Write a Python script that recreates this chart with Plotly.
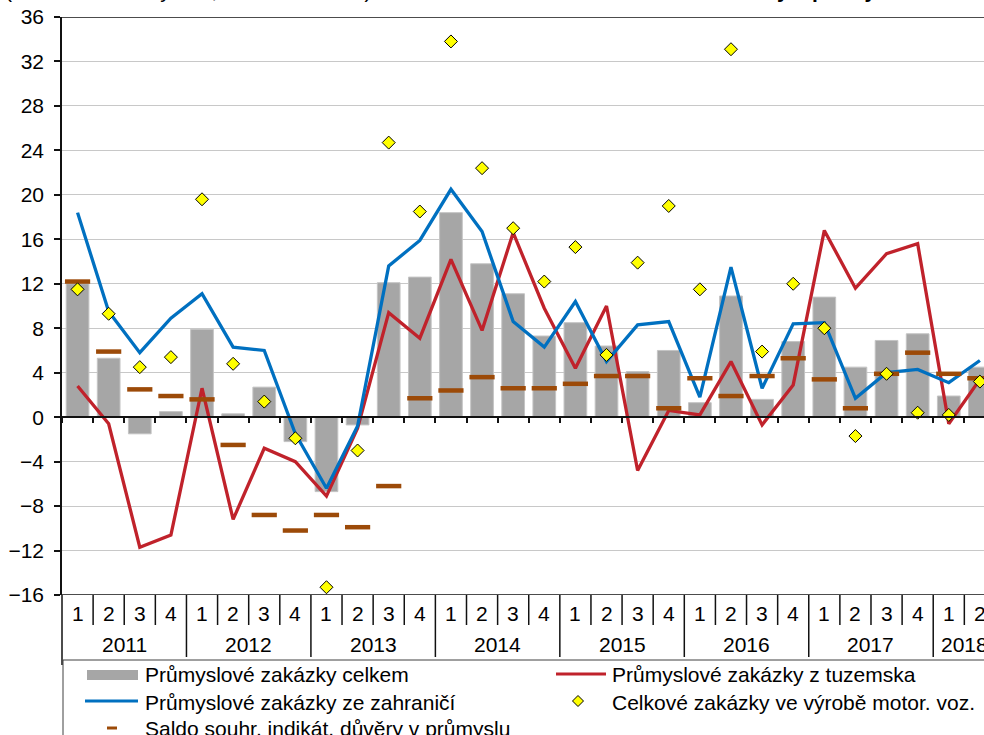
import plotly.graph_objects as go

# ---------------- data ----------------
years = ["2011", "2012", "2013", "2014", "2015", "2016", "2017", "2018"]
quarters = ["1", "2", "3", "4"]
periods = [f"{y}-{q}" for y in years for q in quarters][:30]

celkem = [12.0, 5.3, -1.5, 0.5, 7.9, 0.3, 2.7, -2.2, -6.7, -0.7,
          12.1, 12.6, 18.4, 13.8, 11.1, 7.3, 8.5, 6.4, 4.1, 6.0,
          1.3, 10.9, 1.6, 6.8, 10.8, 4.5, 6.9, 7.5, 1.9, 4.5]
tuzemska = [2.8, -0.6, -11.7, -10.6, 2.6, -9.2, -2.8, -4.0, -7.1, -1.0,
            9.4, 7.1, 14.2, 7.8, 16.6, 9.8, 4.4, 10.0, -4.8, 0.6,
            0.2, 5.0, -0.7, 2.9, 16.8, 11.6, 14.7, 15.6, -0.6, 3.4]
zahranici = [18.4, 9.5, 5.8, 8.9, 11.1, 6.3, 6.0, -1.5, -6.4, -0.8,
             13.6, 15.9, 20.5, 16.7, 8.6, 6.3, 10.4, 5.0, 8.3, 8.6,
             1.8, 13.5, 2.6, 8.4, 8.5, 1.7, 4.0, 4.3, 3.1, 5.1]
motor = [11.5, 9.3, 4.5, 5.4, 19.6, 4.8, 1.4, -1.9, -15.3, -3.0,
         24.7, 18.5, 33.8, 22.4, 17.0, 12.2, 15.3, 5.6, 13.9, 19.0,
         11.5, 33.1, 5.9, 12.0, 8.0, -1.7, 3.9, 0.4, 0.2, 3.2]
saldo = [12.2, 5.9, 2.5, 1.9, 1.6, -2.5, -8.8, -10.2, -8.8, -9.9,
         -6.2, 1.7, 2.4, 3.6, 2.6, 2.6, 3.0, 3.7, 3.7, 0.8,
         3.5, 1.9, 3.7, 5.3, 3.4, 0.8, 3.9, 5.8, 3.9, 3.5]

names = ["Průmyslové zakázky celkem",
         "Průmyslové zakázky z tuzemska",
         "Průmyslové zakázky ze zahraničí",
         "Celkové zakázky ve výrobě motor. voz.",
         "Saldo souhr. indikát. důvěry v průmyslu"]

y_ticks = list(range(-16, 37, 4))
title_left = "(meziroční změny v %, saldo v bodech)"
title_right = "Zakázky v průmyslu"

# ---------------- style ----------------
FONT = "Liberation Sans, Arial, sans-serif"
FS = 21
C_BAR = "#A6A6A6"
C_RED = "#C0222B"
C_BLUE = "#0070C0"
C_BROWN = "#9C4A08"
C_YEL = "#FFFF00"

W, H = 984, 735
PL, PT, PW, PH = 62, 17, 922, 578
XMAX = -0.5 + PW / 31.115


def px(xp):
    return (xp - PL) / PW


def py(yp):
    return (PT + PH - yp) / PH


fig = go.Figure()
fig.add_trace(go.Bar(x=periods, y=celkem, name=names[0], width=0.73,
                     marker=dict(color=C_BAR, line=dict(color="#C4C4C4", width=1)),
                     showlegend=False))
fig.add_trace(go.Scatter(x=periods, y=tuzemska, name=names[1], mode="lines",
                         line=dict(color=C_RED, width=3.3), showlegend=False))
fig.add_trace(go.Scatter(x=periods, y=zahranici, name=names[2], mode="lines",
                         line=dict(color=C_BLUE, width=3.3), showlegend=False))
fig.add_trace(go.Scatter(x=periods, y=saldo, name=names[4], mode="markers",
                         marker=dict(symbol="line-ew", size=18,
                                     line=dict(color=C_BROWN, width=4.5)),
                         showlegend=False))
fig.add_trace(go.Scatter(x=periods, y=motor, name=names[3], mode="markers",
                         marker=dict(symbol="diamond", size=10, color=C_YEL,
                                     line=dict(color="black", width=1)),
                         showlegend=False, cliponaxis=False))

shapes = []
ann = []
BLK = "#111111"
# frame lines at top (36) and bottom (-16)
for yv in (y_ticks[-1], y_ticks[0]):
    shapes.append(dict(type="line", xref="paper", yref="y", x0=0, x1=1, y0=yv, y1=yv,
                       line=dict(color=BLK, width=1.5)))
# left border of category table
shapes.append(dict(type="line", xref="paper", yref="paper", x0=0, x1=0,
                   y0=py(595), y1=py(665), line=dict(color=BLK, width=1.5)))
# separators between quarters / years
for b in range(1, len(periods)):
    yb = py(657) if b % 4 == 0 else py(625)
    shapes.append(dict(type="line", xref="x", yref="paper", x0=b - 0.5, x1=b - 0.5,
                       y0=py(595), y1=yb, line=dict(color=BLK, width=1.5)))
# quarter and year labels
for i, p in enumerate(periods):
    ann.append(dict(x=i, xref="x", y=py(613), yref="paper", text=p.split("-")[1],
                    showarrow=False, xanchor="center", yanchor="middle",
                    font=dict(family=FONT, size=FS, color="black")))
for k, yr in enumerate(years):
    idx = [i for i, p in enumerate(periods) if p.startswith(yr)]
    ann.append(dict(x=(idx[0] + idx[-1]) / 2, xref="x", y=py(644), yref="paper", text=yr,
                    showarrow=False, xanchor="center", yanchor="middle",
                    font=dict(family=FONT, size=FS, color="black")))

# legend (drawn manually)
shapes.append(dict(type="rect", xref="paper", yref="paper", x0=px(63), x1=px(1010),
                   y0=py(660), y1=py(820), line=dict(color="#404040", width=1)))
shapes.append(dict(type="rect", xref="paper", yref="paper", x0=px(87), x1=px(138),
                   y0=py(680), y1=py(670), fillcolor=C_BAR, line=dict(width=0)))
shapes.append(dict(type="line", xref="paper", yref="paper", x0=px(85), x1=px(138),
                   y0=py(701), y1=py(701), line=dict(color=C_BLUE, width=3)))
shapes.append(dict(type="line", xref="paper", yref="paper", x0=px(107), x1=px(117),
                   y0=py(728), y1=py(728), line=dict(color=C_BROWN, width=3)))
shapes.append(dict(type="line", xref="paper", yref="paper", x0=px(556), x1=px(606),
                   y0=py(674), y1=py(674), line=dict(color=C_RED, width=3)))
dcx, dcy, dr = 578, 701, 5.5
path = "M{},{} L{},{} L{},{} L{},{} Z".format(
    px(dcx), py(dcy - dr), px(dcx + dr), py(dcy), px(dcx), py(dcy + dr), px(dcx - dr), py(dcy))
shapes.append(dict(type="path", xref="paper", yref="paper", path=path,
                   fillcolor=C_YEL, line=dict(color="black", width=1)))
leg_pos = [(143, 675), (610, 675), (143, 702), (610, 702), (143, 728)]
for nm, (lx, ly) in zip(names, leg_pos):
    ann.append(dict(x=px(lx), xref="paper", y=py(ly), yref="paper", text=nm,
                    showarrow=False, xanchor="left", yanchor="middle",
                    font=dict(family=FONT, size=FS, color="black")))

# title (mostly cut off at the top of the picture)
ann.append(dict(x=px(3), xref="paper", y=py(-9), yref="paper", text=title_left,
                showarrow=False, xanchor="left", yanchor="middle",
                font=dict(family=FONT, size=FS, color="black")))
ann.append(dict(x=px(705), xref="paper", y=py(-9), yref="paper", text="<b>" + title_right + "</b>",
                showarrow=False, xanchor="left", yanchor="middle",
                font=dict(family=FONT, size=FS, color="black")))

fig.update_layout(
    width=W, height=H,
    margin=dict(l=PL, r=W - PL - PW, t=PT, b=H - PT - PH, autoexpand=False),
    paper_bgcolor="white", plot_bgcolor="white",
    font=dict(family=FONT, size=FS, color="black"),
    showlegend=False,
    shapes=shapes,
    annotations=ann,
    xaxis=dict(type="category", range=[-0.5, XMAX], anchor="free",
               position=(0 - y_ticks[0]) / (y_ticks[-1] - y_ticks[0]),
               showline=True, linecolor=BLK, linewidth=1.5,
               ticks="outside", tickson="boundaries", ticklen=5,
               tickcolor=BLK, tickwidth=1.5,
               showticklabels=False, showgrid=False, zeroline=False),
    yaxis=dict(range=[y_ticks[0], y_ticks[-1]], tickvals=y_ticks,
               showline=True, linecolor=BLK, linewidth=1.5,
               ticks="outside", ticklen=6, tickcolor=BLK, tickwidth=1.5,
               ticklabelstandoff=6,
               tickfont=dict(family=FONT, size=FS, color="black"),
               showgrid=True, gridcolor="#C8C8C8", gridwidth=1, zeroline=False),
)

fig.write_html("out.html", config={"displayModeBar": False},
               post_script="document.body.style.margin='0px';document.body.style.overflow='hidden';")
